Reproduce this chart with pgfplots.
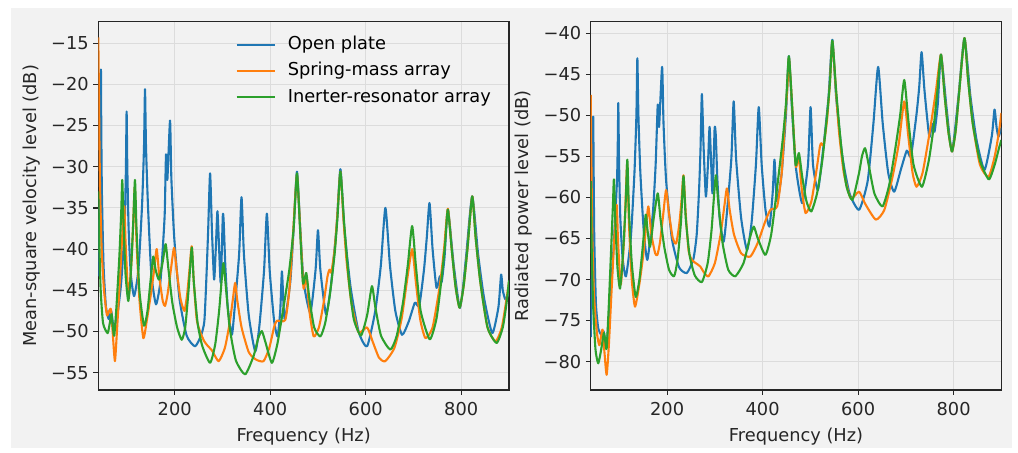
\documentclass[border=0pt]{standalone}
\usepackage{fontspec}
\setmainfont{DejaVu Sans}
\usepackage{pgfplots}
\pgfplotsset{compat=1.18}
\definecolor{c1}{HTML}{1F77B4}
\definecolor{c2}{HTML}{FF7F0E}
\definecolor{c3}{HTML}{2CA02C}
\definecolor{bgc}{HTML}{F2F2F2}
\definecolor{gridc}{HTML}{DCDCDC}
\definecolor{spc}{HTML}{262626}
\newcommand{\ff}{\fontsize{8.9}{10.6}\selectfont}
\pgfplotsset{
  base/.style={
    scale only axis, width=205.35pt, height=184.15pt, anchor=south west,
    xmin=40, xmax=900,
    axis background/.style={fill=bgc},
    grid=major, grid style={gridc, line width=0.45pt},
    axis line style={spc, line width=0.6pt},
    tick style={spc, line width=0.6pt},
    tick align=outside, tick pos=left, major tick length=2.45pt,
    xtick={200,400,600,800}, xticklabels={200,400,600,800},
    xticklabel style={font=\ff, text=spc, anchor=center, inner sep=0pt, yshift=-7.2pt},
    yticklabel style={font=\ff, text=spc, anchor=east, inner sep=0pt, xshift=-2.1pt},
    label style={font=\ff, text=spc},
    xlabel={Frequency (Hz)},
    xlabel style={at={(axis description cs:0.5,-0.127)}, anchor=center},
    every axis plot/.append style={line width=1.05pt, line join=round, smooth, tension=0.35},
    clip=true,
  }
}
\begin{document}
\begin{tikzpicture}
\fill[white] (0,0) rectangle (509pt,225pt);
\fill[bgc] (5.5pt,1pt) rectangle (506pt,221pt);
\begin{axis}[base, at={(49.15pt,30pt)},
  ymin=-57.1, ymax=-12.4,
  ytick={-55,-50,-45,-40,-35,-30,-25,-20,-15},
  yticklabels={−55,−50,−45,−40,−35,−30,−25,−20,−15},
  ylabel={Mean-square velocity level (dB)},
  ylabel style={at={(axis description cs:-0.162,0.5)}, anchor=center},
  legend style={at={(axis description cs:0.3335,0.967)}, anchor=north west, draw=none, fill=none, font=\ff, text=black, inner sep=0pt, row sep=2.75pt, column sep=0pt, nodes={text height=6.6pt, text depth=1.8pt, inner sep=1pt}},
  legend cell align=left,
  legend image code/.code={\draw[#1, line width=1.05pt] (0pt,0pt) -- (19pt,0pt);},
  /tikz/every odd column/.append style={column sep=5pt},
]
\addplot[c1] coordinates {(40,-43.3)(43.8,-33)(44.8,-25)(45.5,-18.2)(46.2,-25)(47.5,-33)(51,-42)(56,-47)(62,-48.5)(67,-47.5)(70,-48.8)(73,-49.5)(80,-48)(88,-44)(95,-37.5)(97.8,-30.3)(99.3,-23.3)(100.8,-30.3)(103.5,-37.5)(108,-43)(115,-45.7)(124,-42.5)(131.6,-34.7)(135.7,-27.6)(137.8,-20.6)(139.9,-27.6)(144,-34.7)(151,-43)(160.8,-46.7)(170,-44)(176,-39)(179.2,-35.5)(181.8,-28.5)(184.6,-31.6)(190.2,-24.4)(193,-31.4)(199,-38.6)(210,-46)(225,-50.5)(242.6,-51.8)(255,-50.5)(262,-48.8)(266,-44)(270,-37.8)(274.1,-30.8)(278,-37.8)(282.5,-43.7)(286,-40)(289.5,-35.4)(293,-40)(296.5,-44.1)(300.7,-36.0)(302.5,-36.6)(306,-42)(311,-47)(319.6,-50.4)(325,-47.5)(334.8,-40.7)(339.9,-33.7)(345,-40.7)(355,-48)(368.5,-52.4)(377,-49.5)(387,-42.7)(393,-35.7)(399,-42.7)(408,-48.6)(415.3,-50.6)(421,-47.5)(424.5,-42.7)(428,-47)(431,-48.5)(442,-44)(449,-37.6)(456,-30.6)(463,-37.6)(470,-44)(484,-47.7)(495,-42.5)(500,-37.7)(505,-42.5)(516.8,-47.9)(527,-44.5)(539,-37.3)(547,-30.3)(555,-37.3)(568,-44.5)(585,-50)(602.8,-51.8)(620,-47.5)(631.6,-42)(641.2,-35.0)(650.8,-42)(662,-47.5)(676,-50.4)(690,-48.8)(703,-46.5)(712,-46.9)(722,-42.5)(728,-38.5)(733.6,-34.4)(740,-40)(748.2,-44.7)(755.2,-43.3)(759,-44)(765,-41)(772,-35.2)(784,-41.8)(796.5,-47.1)(803,-45)(810.7,-40.6)(823,-33.6)(835.3,-40.6)(848,-46)(865,-50.2)(878,-47)(883.5,-43.1)(887,-45)(892.5,-46.1)(900,-45.3)};
\addlegendentry{Open plate}
\addplot[c2] coordinates {(40,-14.3)(41.5,-22)(43.5,-32)(47,-40)(52,-45)(58,-48)(62,-47.6)(66.4,-47.3)(70,-50)(74.8,-53.6)(79,-50)(85,-44)(90,-38.5)(94.4,-34.8)(97,-39)(101,-44)(103.5,-46)(110,-41)(114,-35.5)(116.5,-32.5)(120,-39)(126,-46)(134.3,-50.8)(142,-48.5)(150,-45.5)(157,-42.5)(162.3,-40.0)(168,-43.5)(175,-46.3)(179.7,-46.9)(185,-45.5)(192,-42.5)(198.6,-39.85)(204,-42.5)(212,-46)(220.3,-47.5)(226,-45.5)(231,-42.5)(235.7,-39.65)(240,-44)(246,-48.5)(253,-50.0)(262,-51.2)(270,-51.8)(278,-52.3)(292,-53.6)(305,-52)(315,-49)(322,-46)(326.6,-44.1)(331,-46.2)(340,-49.5)(355,-52.5)(370,-53.4)(386,-53.6)(398,-52)(408,-49.5)(414,-48.7)(431.4,-48.6)(440,-45)(447,-39)(452,-34)(456,-31.0)(460,-34.5)(466,-41)(470,-44.8)(476,-43.3)(482,-47.5)(491,-50.6)(502,-49.5)(512,-46.5)(520,-43.3)(524,-42.5)(528,-42.8)(535,-40)(541,-35.5)(547,-30.6)(553,-36)(560,-41.5)(570,-46.5)(585,-50.1)(602.8,-49.5)(615,-51.3)(628,-53.2)(641,-53.6)(660,-52)(675,-48.5)(686,-44)(697.2,-40.0)(705,-44)(714,-48.5)(725,-50.8)(740,-49.5)(755,-44.5)(764,-40)(772,-35.1)(780,-40)(788,-44.5)(796.5,-47.1)(805,-44.5)(813,-40)(823,-33.6)(830,-38.5)(840,-44)(855,-49.5)(872,-51.2)(885,-49.5)(895,-46)(900,-44)};
\addlegendentry{Spring-mass array}
\addplot[c3] coordinates {(40,-33)(42,-39)(45,-45)(50,-49)(59.5,-50.2)(64,-49)(67.9,-47.9)(70.5,-49.5)(73.4,-50.5)(78,-47)(84,-41)(88,-35.5)(90.2,-31.6)(93,-37)(97,-43)(102.8,-46.3)(108,-43)(113,-37)(116.8,-31.6)(120,-37.5)(126,-45)(135.7,-49.3)(143,-47.5)(150,-43.5)(155.2,-40.9)(160,-42.5)(167.1,-43.7)(175,-41.5)(181.1,-39.4)(187,-42.5)(195,-46.5)(205,-49.5)(214.7,-51.0)(222,-49.5)(229,-45)(235.7,-39.8)(240,-44)(248,-49)(258,-51.8)(274.1,-53.8)(285,-51.5)(293,-47.5)(298,-44)(302,-41.7)(307,-44.5)(315,-49.5)(328,-53.5)(347.5,-55.2)(365,-53)(375,-50.8)(382.5,-49.95)(390,-51.3)(403.5,-53.8)(415,-51.5)(428,-47)(440,-42.5)(449,-37.5)(456,-30.8)(462,-37)(468.5,-44.1)(475.5,-42.9)(482,-46)(492,-49.5)(505,-50.6)(515,-49)(525,-45.5)(535,-40.5)(541,-36)(547,-30.6)(555,-37)(565,-44)(575,-48.5)(590,-50.5)(603,-48)(613,-44.5)(620,-47)(632,-50.5)(651.6,-52.2)(665,-50.5)(678,-46.5)(688,-42)(697.2,-37.2)(705,-42)(715,-47.5)(734,-50.95)(748,-48.5)(758,-44)(766,-39.5)(772,-35.2)(780,-40)(788,-44.5)(796.5,-47.1)(805,-44.5)(813,-40)(823,-33.6)(830,-38.5)(840,-44)(855,-49.5)(874,-51.4)(887,-49.5)(895,-46.5)(900,-43.8)};
\addlegendentry{Inerter-resonator array}
\end{axis}
\begin{axis}[base, at={(295.35pt,30pt)},
  ymin=-83.45, ymax=-38.6,
  ytick={-80,-75,-70,-65,-60,-55,-50,-45,-40},
  yticklabels={−80,−75,−70,−65,−60,−55,−50,−45,−40},
  ylabel={Radiated power level (dB)},
  ylabel style={at={(axis description cs:-0.164,0.5)}, anchor=center},
]
\addplot[c1] coordinates {(40,-77)(43.8,-65)(44.8,-57)(45.3,-50.15)(46.2,-57)(47.5,-65)(51,-73)(56,-76)(62.8,-76.75)(67,-76.3)(70,-77.5)(73,-78.3)(80,-73)(88,-66)(95,-58)(96.8,-53)(97.8,-48.5)(99.3,-55.5)(102,-62.5)(107,-67.5)(113.9,-69.6)(124,-64.9)(131.6,-57)(135.7,-50)(137.7,-43.05)(139.9,-50)(144,-57)(151,-64)(158.7,-67.6)(170,-62)(176,-56)(180.4,-48.7)(183.2,-51.4)(189.5,-44.1)(192.5,-51)(198,-58)(210,-65)(225,-68.5)(241.3,-69.2)(255,-67.5)(262,-64.5)(267,-59)(270,-54)(272.8,-47.4)(276.5,-54)(281.2,-59.9)(285.5,-56)(288.9,-51.4)(292,-55.5)(295.2,-59.5)(299.5,-51.6)(302,-52.5)(305,-57.5)(310,-62.5)(318.3,-65.4)(325,-62)(334.5,-55.3)(339.4,-48.3)(344.5,-55.3)(355,-62.5)(367.3,-66.4)(377,-63)(386,-56)(391.9,-49.0)(398,-56)(406,-61.5)(414.3,-63.55)(421,-59.5)(424.8,-55.4)(428,-59)(431,-60.5)(440,-57)(449,-49.8)(455,-42.8)(462,-49.8)(470,-56.5)(483,-60.7)(495,-56)(500.4,-49.0)(505.5,-56)(515.9,-59.1)(527,-54)(538,-47.8)(546,-40.8)(554,-47.8)(567,-55)(582,-59.5)(602,-61.5)(620,-58)(632,-51)(641.9,-44.1)(651.5,-51)(663,-57)(675.5,-59.3)(690,-56.5)(702,-54.3)(710.5,-55.0)(722,-50)(728,-46.5)(732.9,-42.3)(739,-47)(749,-52.6)(754.6,-51.0)(760,-52)(767,-48.5)(773.5,-42.6)(785,-49)(796.6,-54.4)(810.3,-47.6)(822.6,-40.6)(835,-47.6)(848,-53)(864.6,-56.65)(880,-52.5)(885.6,-49.3)(890,-51.5)(894,-52.6)(900,-51.5)};
\addplot[c2] coordinates {(40,-47.5)(41.5,-56)(43.5,-65)(47,-72)(53,-76.5)(58,-78)(61.5,-77)(65,-76.1)(69,-79)(73.4,-81.6)(78,-78)(84,-71)(90,-64.5)(94.4,-60.9)(97,-65)(101,-69.5)(103.5,-70.5)(110,-65)(114,-59)(116.5,-56)(120,-63)(126,-70)(132.8,-73.3)(142,-70.5)(150,-67)(156,-63.5)(160.8,-61.1)(167,-64.5)(175,-66.8)(179.6,-67.0)(185,-65.5)(192,-62)(197.9,-59.1)(204,-62)(212,-65)(218.9,-65.6)(225,-63.5)(230,-60.5)(234.3,-57.3)(239,-62)(245,-66.5)(251.8,-67.6)(260,-68)(269.3,-68.4)(278,-69.2)(286.8,-69.6)(300,-68)(312,-64.5)(320,-61)(325.3,-58.9)(331,-61.5)(340,-64.5)(355,-66.8)(374.3,-67.2)(390,-65.5)(405,-63)(416.4,-61.5)(430.4,-61.1)(440,-57)(447,-50.5)(452,-46.5)(455,-43.0)(460,-47)(466,-53)(470,-56.3)(476,-55.2)(482,-59)(490,-61.9)(502,-60.5)(512,-57)(520,-53.8)(522.9,-53.4)(528,-53.6)(535,-50.5)(541,-46)(546,-41.0)(553,-46.5)(560,-52)(570,-57)(584.5,-60.1)(602,-59.3)(615,-60.8)(637,-62.7)(655,-61.5)(672,-57.5)(685,-53.5)(696.6,-48.3)(705,-52.5)(714,-57)(722.4,-58.7)(735,-57)(750,-52)(763,-47)(773.5,-42.6)(781,-47.5)(789,-52)(796.6,-54.4)(804,-52)(811,-47.6)(822.6,-40.6)(830,-45.5)(840,-51)(855,-56)(873,-57.5)(886,-55)(895,-52)(900,-49.7)};
\addplot[c3] coordinates {(40,-58)(42,-66)(45,-73)(50,-78.5)(55.8,-80.2)(62,-78.5)(67.6,-76.5)(70.5,-77.5)(73.4,-78.4)(78,-73)(83,-66)(86.5,-61)(88.7,-57.8)(92,-63.5)(96,-68.5)(101.3,-71.1)(107,-67.5)(113,-61)(116.7,-55.4)(120,-61.5)(126,-68)(134.2,-72.1)(142,-70)(149,-66)(155.2,-62.1)(159,-64)(164.3,-66.0)(172,-62.5)(180.4,-59.5)(186,-62.5)(194,-66)(204,-68.8)(214.7,-69.6)(222,-67.5)(229,-63)(234.3,-57.4)(239,-62.5)(247,-67)(258,-69.5)(272.8,-70.3)(285,-68)(293,-64)(298,-60)(302.2,-57.3)(307,-60.5)(316,-65.5)(328,-68.8)(342.8,-69.6)(360,-68)(373,-65)(381.4,-63.55)(390,-65)(405.8,-67.0)(418,-64.5)(430,-59)(442,-53)(449,-48.5)(455,-42.8)(462,-49)(469,-56.0)(476,-54.6)(483,-57.5)(492,-60.5)(502,-61.7)(514,-59.5)(525,-55.5)(535,-50)(541,-46)(546,-40.9)(554,-47)(564,-53.5)(575,-58.5)(588,-60.3)(602,-57)(608,-55)(614.6,-54.0)(622,-56)(634,-59.5)(651,-61.1)(665,-58.5)(678,-54)(688,-50)(696.6,-45.7)(705,-50.5)(716,-56)(733.6,-58.7)(748,-55.5)(758,-51.5)(766,-47)(773.5,-42.6)(781,-47.5)(789,-52)(796.6,-54.4)(804,-52)(811,-47.6)(822.6,-40.6)(830,-45.5)(840,-51)(855,-55.5)(873.7,-57.8)(886,-56)(895,-54)(900,-53)};
\end{axis}
\end{tikzpicture}
\end{document}
